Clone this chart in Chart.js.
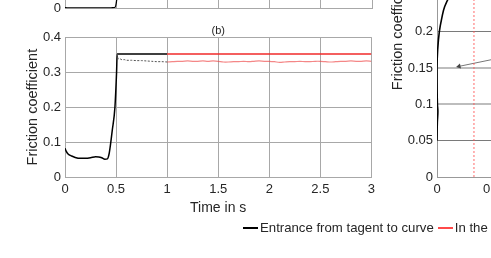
<!DOCTYPE html>
<html>
<head>
<meta charset="utf-8">
<script src="https://cdn.jsdelivr.net/npm/chart.js@4.4.1/dist/chart.umd.min.js"></script>
<style>
  html, body { margin:0; padding:0; background:#fff; }
  body { width:491px; height:258px; overflow:hidden; position:relative; font-family:"Liberation Sans", Arial, sans-serif; }
  canvas { position:absolute; }
  #legend { position:absolute; left:243px; top:220px; white-space:nowrap; font-size:13.2px; color:#262626; line-height:16px; display:flex; align-items:center; }
  .sw { display:inline-block; width:15px; height:0; border-top:2px solid; margin-right:2px; }
</style>
</head>
<body>
<canvas id="ca" width="380" height="180" style="left:0;top:-160px"></canvas>
<canvas id="cb" width="380" height="222" style="left:0;top:0"></canvas>
<canvas id="cc" width="300" height="342" style="left:375px;top:-125px"></canvas>
<div id="legend">
  <span class="sw" style="border-color:#000"></span><span>Entrance from tagent to curve</span>
  <span class="sw" style="border-color:#ff4a4a;margin-left:4px"></span><span>In the curve</span>
</div>
<script>
// ---------- data: panel (b) ----------
const tBlackMain  = [0,0.01,0.03,0.065,0.1,0.15,0.2,0.25,0.3,0.33,0.36,0.39,0.415,0.433,0.447,0.463,0.489,0.505,0.511,1.0];
const muBlackMain = [0.082,0.075,0.066,0.060,0.056,0.0535,0.0535,0.055,0.058,0.0575,0.055,0.051,0.052,0.068,0.096,0.134,0.2,0.3,0.352,0.352];
const tBlackLow   = [0.511,0.52,0.53,0.54,0.56,0.58,0.6,0.65,0.7,0.75,0.8,0.85,0.9,0.95,1.0];
const muBlackLow  = [0.352,0.339,0.337,0.338,0.335,0.336,0.334,0.334,0.333,0.333,0.332,0.331,0.330,0.330,0.329];
const tRedUp  = [1.0,3.0];
const muRedUp = [0.352,0.352];
const tRedLow  = [1.00,1.05,1.10,1.15,1.20,1.25,1.30,1.35,1.40,1.45,1.50,1.55,1.60,1.65,1.70,1.75,1.80,1.85,1.90,1.95,2.00,2.05,2.10,2.15,2.20,2.25,2.30,2.35,2.40,2.45,2.50,2.55,2.60,2.65,2.70,2.75,2.80,2.85,2.90,2.95,3.00];
const muRedLow = [0.329,0.330,0.331,0.331,0.332,0.331,0.331,0.332,0.331,0.332,0.331,0.329,0.329,0.330,0.330,0.331,0.330,0.331,0.332,0.331,0.331,0.330,0.328,0.329,0.330,0.330,0.331,0.330,0.330,0.331,0.331,0.330,0.329,0.330,0.331,0.331,0.332,0.331,0.331,0.332,0.331];
const xTicksB  = [0,0.5,1,1.5,2,2.5,3];
const xLabelsB = ['0','0.5','1','1.5','2','2.5','3'];
const yTicksB  = [0,0.1,0.2,0.3,0.4];
const yLabelsB = ['0','0.1','0.2','0.3','0.4'];

// ---------- data: panel (a) (only bottom strip visible) ----------
const tA  = [0,0.02,0.1,0.3,0.45,0.47,0.49,0.5,0.511,0.52,0.53,0.56,0.6];
const muA = [0.0015,0.001,0.0008,0.0008,0.001,0.0012,0.0023,0.012,0.036,0.07,0.12,0.22,0.3];

// ---------- data: right panel ----------
const xC  = [0,0.003,0.008,0.004,0.001,0,0.006,0.021,0.045,0.07,0.12,0.2,0.3];
const muC = [0.05,0.075,0.09,0.1,0.12,0.15,0.175,0.2,0.22,0.235,0.25,0.265,0.275];
const xRedV  = [0.336,0.336];
const muRedV = [0,0.4];
const xArrow  = [0.2,0.491,0.9];
const muArrow = [0.1525,0.1616,0.1743];
const xTicksC  = [0,0.5,1,1.5,2];
const xLabelsC = ['0','0.5','1','1.5','2'];
const yTicksC  = [0,0.05,0.1,0.15,0.2,0.25,0.3,0.35,0.4];
const yLabelsC = ['0','0.05','0.1','0.15','0.2','0.25','0.3','0.35','0.4'];

const FONT = '"Liberation Sans", Arial, sans-serif';
const TXT = '#262626';
const GRID = '#a8a8a8';
const pts = (xs, ys) => xs.map((x, i) => ({x, y: ys[i]}));
const fixTicks = (vals) => (s) => { s.ticks = vals.map(v => ({value:v})); };
const lab = (labels) => (v, i) => labels[i];

Chart.defaults.font.family = FONT;
Chart.defaults.color = TXT;
Chart.defaults.animation = false;

const baseLine = {pointRadius:0, fill:false, borderJoinStyle:'round'};

// ---------- panel (a) ----------
new Chart(document.getElementById('ca'), {
  type:'line',
  data:{datasets:[
    {...baseLine, data:pts(tA, muA), borderColor:'#000', borderWidth:1.3, cubicInterpolationMode:'monotone'}
  ]},
  options:{
    responsive:false, events:[],
    layout:{padding:{left:0,right:8,top:0,bottom:0}},
    plugins:{legend:{display:false}, tooltip:{enabled:false}},
    scales:{
      x:{type:'linear', min:0, max:3, afterBuildTicks:fixTicks(xTicksB),
         ticks:{display:false}, grid:{color:GRID, drawTicks:false}, border:{color:GRID},
         afterFit:s=>{s.height=4;}},
      y:{min:0, max:0.4, afterBuildTicks:fixTicks(yTicksB),
         ticks:{padding:4, font:{size:13}, color:TXT, callback:lab(yLabelsB)}, grid:{color:GRID, drawTicks:false}, border:{color:GRID},
         afterFit:s=>{s.width=65;}}
    }
  }
});

// ---------- panel (b) ----------
new Chart(document.getElementById('cb'), {
  type:'line',
  data:{datasets:[
    {...baseLine, data:pts(tRedLow, muRedLow), borderColor:'rgba(238,70,70,0.65)', borderWidth:1.2, tension:0.3},
    {...baseLine, data:pts(tBlackLow, muBlackLow), borderColor:'#555', borderWidth:1, borderDash:[2,1.5], tension:0.3},
    {...baseLine, data:pts(tRedUp, muRedUp), borderColor:'#f02a2a', borderWidth:1.5},
    {...baseLine, data:pts(tBlackMain, muBlackMain), borderColor:'#000', borderWidth:1.5, cubicInterpolationMode:'monotone'}
  ]},
  options:{
    responsive:false, events:[],
    layout:{padding:{left:0,right:8,top:0,bottom:0}},
    plugins:{
      legend:{display:false}, tooltip:{enabled:false},
      title:{display:true, text:'(b)', fullSize:false, color:TXT, font:{size:11, weight:'normal'}, padding:{top:24,bottom:0}}
    },
    scales:{
      x:{type:'linear', min:0, max:3, afterBuildTicks:fixTicks(xTicksB),
         ticks:{padding:5, font:{size:13}, color:TXT, maxRotation:0, callback:lab(xLabelsB)},
         grid:{color:GRID, drawTicks:false}, border:{color:GRID},
         title:{display:true, text:'Time in s', color:TXT, font:{size:14}, padding:{top:0,bottom:5}},
         afterFit:s=>{s.height=45;}},
      y:{min:0, max:0.4, afterBuildTicks:fixTicks(yTicksB),
         ticks:{padding:4, font:{size:13}, color:TXT, callback:lab(yLabelsB)},
         grid:{color:GRID, drawTicks:false}, border:{color:GRID},
         title:{display:true, text:'Friction coefficient', color:TXT, font:{size:14.5}, padding:{top:24,bottom:0}},
         afterFit:s=>{s.width=65;}}
    }
  }
});

// ---------- right panel ----------
new Chart(document.getElementById('cc'), {
  type:'line',
  data:{datasets:[
    {...baseLine, data:pts(xRedV, muRedV), borderColor:'rgba(255,80,80,0.85)', borderWidth:1, borderDash:[2,2]},
    {...baseLine, data:pts(xArrow, muArrow), borderColor:'#777', borderWidth:1,
     pointRadius:[3,0,0], pointStyle:'triangle', pointRotation:258, pointBackgroundColor:'#444', pointBorderColor:'#444', pointBorderWidth:0},
    {...baseLine, data:pts(xC, muC), borderColor:'#000', borderWidth:1.6, tension:0.4}
  ]},
  options:{
    responsive:false, events:[],
    layout:{padding:{left:0,right:18,top:0,bottom:0}},
    plugins:{legend:{display:false}, tooltip:{enabled:false}},
    scales:{
      x:{type:'linear', min:0, max:2, afterBuildTicks:fixTicks(xTicksC),
         ticks:{padding:5, font:{size:13}, color:TXT, maxRotation:0, callback:lab(xLabelsC)},
         grid:{color:GRID, drawTicks:false}, border:{color:'#999'},
         afterFit:s=>{s.height=40;}},
      y:{min:0, max:0.4, afterBuildTicks:fixTicks(yTicksC),
         ticks:{padding:4, font:{size:13}, color:TXT, callback:lab(yLabelsC)},
         grid:{drawTicks:false,
               color:c=>{const v=Math.round((c.tick?c.tick.value:0)*100); return (v===10||v===15)?'#bdbdbd':'#7a7a7a';},
               lineWidth:c=>{const v=Math.round((c.tick?c.tick.value:0)*100); return (v===10||v===15)?2:1;}},
         border:{color:'#999'},
         title:{display:true, text:'Friction coefficient', color:TXT, font:{size:14.5}, padding:{top:14,bottom:0}},
         afterFit:s=>{s.width=62;}}
    }
  }
});
</script>
</body>
</html>
